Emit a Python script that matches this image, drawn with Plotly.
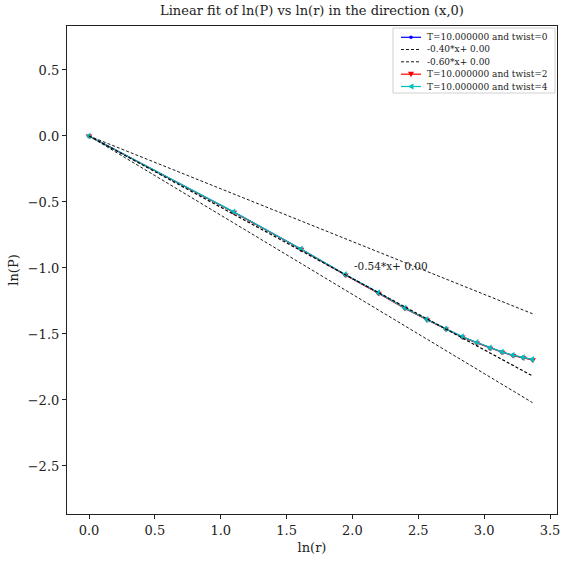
import numpy as np
import plotly.graph_objects as go

r_vals = [1, 3, 5, 7, 9, 11, 13, 15, 17, 19, 21, 23, 25, 27, 29]
lnP_twist0 = [0.0, -0.576, -0.857, -1.051, -1.189, -1.304, -1.391, -1.461, -1.521, -1.566, -1.606, -1.637, -1.662, -1.679, -1.694]
lnP_twist2 = [0.0, -0.578, -0.859, -1.053, -1.191, -1.306, -1.393, -1.463, -1.523, -1.568, -1.608, -1.639, -1.664, -1.681, -1.696]
lnP_twist4 = [0.0, -0.575, -0.856, -1.050, -1.188, -1.303, -1.390, -1.460, -1.520, -1.565, -1.605, -1.636, -1.661, -1.678, -1.693]
slopes_legend = [-0.40, -0.60]
fit_slope = -0.54
fit_intercept = 0.00
legend_labels = ["T=10.000000 and twist=0", "%.2f*x+ %.2f" % (slopes_legend[0], 0.0),
                 "%.2f*x+ %.2f" % (slopes_legend[1], 0.0),
                 "T=10.000000 and twist=2", "T=10.000000 and twist=4"]

lnr = np.log(np.array(r_vals, dtype=float))
xline = np.array([0.0, lnr[-1]])

FONT = "DejaVu Serif"
CYAN = "#00bfbf"
DASH = "3px,2px"
fig = go.Figure()

fig.add_trace(go.Scatter(x=lnr, y=lnP_twist0, mode="lines+markers",
                         line=dict(color="blue", width=1.2),
                         marker=dict(symbol="circle", size=4, color="blue")))
for s in slopes_legend:
    fig.add_trace(go.Scatter(x=xline, y=s * xline, mode="lines",
                             line=dict(color="black", width=0.9, dash=DASH)))
fig.add_trace(go.Scatter(x=lnr, y=lnP_twist2, mode="lines+markers",
                         line=dict(color="red", width=1.2),
                         marker=dict(symbol="triangle-down", size=6, color="red")))
fig.add_trace(go.Scatter(x=lnr, y=lnP_twist4, mode="lines+markers",
                         line=dict(color=CYAN, width=1.2),
                         marker=dict(symbol="triangle-left", size=6, color=CYAN)))
fig.add_trace(go.Scatter(x=xline, y=fit_slope * xline + fit_intercept, mode="lines",
                         line=dict(color="black", width=1.2, dash=DASH)))

fig.add_annotation(x=2.0, y=-1.0, text="%.2f*x+ %.2f" % (fit_slope, fit_intercept),
                   showarrow=False, xanchor="left", yanchor="middle", yshift=2,
                   font=dict(family=FONT, size=10.5, color="#222222"))

# ---- hand-made compact legend (pixel layout converted to paper coords) ----
W, H = 564, 565
ML, MR, MT, MB = 67, 7, 26, 51
PW, PH = W - ML - MR, H - MT - MB


def px(xp):
    return (xp - ML) / PW


def py(yp):
    return (H - MB - yp) / PH


shapes = []
shapes.append(dict(type="rect", xref="paper", yref="paper",
                   x0=px(393), x1=px(555), y0=py(93), y1=py(28),
                   line=dict(color="#d0d0d0", width=1), fillcolor="rgba(255,255,255,0.85)",
                   layer="above"))
row_y = [37.3, 49.5, 61.8, 74.2, 86.5]
styles = [("blue", "solid", "dot"), ("black", DASH, None), ("black", DASH, None),
          ("red", "solid", "down"), (CYAN, "solid", "left")]
x0l, x1l = 401, 421
for yy, (col, dsh, mk), lab in zip(row_y, styles, legend_labels):
    shapes.append(dict(type="line", xref="paper", yref="paper",
                       x0=px(x0l), x1=px(x1l), y0=py(yy), y1=py(yy),
                       line=dict(color=col, width=1.2 if dsh == "solid" else 0.9, dash=dsh),
                       layer="above"))
    cx = (x0l + x1l) / 2
    if mk == "dot":
        shapes.append(dict(type="circle", xref="paper", yref="paper",
                           x0=px(cx - 1.8), x1=px(cx + 1.8), y0=py(yy + 1.8), y1=py(yy - 1.8),
                           fillcolor=col, line=dict(color=col, width=0), layer="above"))
    elif mk == "down":
        pth = "M %f,%f L %f,%f L %f,%f Z" % (px(cx - 3), py(yy - 2.5), px(cx + 3), py(yy - 2.5), px(cx), py(yy + 3))
        shapes.append(dict(type="path", xref="paper", yref="paper", path=pth,
                           fillcolor=col, line=dict(color=col, width=0), layer="above"))
    elif mk == "left":
        pth = "M %f,%f L %f,%f L %f,%f Z" % (px(cx + 2.5), py(yy - 3), px(cx + 2.5), py(yy + 3), px(cx - 3), py(yy))
        shapes.append(dict(type="path", xref="paper", yref="paper", path=pth,
                           fillcolor=col, line=dict(color=col, width=0), layer="above"))
    fig.add_annotation(xref="paper", yref="paper", x=px(425), y=py(yy), text=lab,
                       showarrow=False, xanchor="left", yanchor="middle",
                       font=dict(family=FONT, size=9, color="#222222"))

axis_common = dict(showline=True, linecolor="#222222", linewidth=1.2, mirror=True,
                   ticks="outside", ticklen=4, tickcolor="#222222",
                   showgrid=False, zeroline=False, automargin=False,
                   tickfont=dict(family=FONT, size=13, color="#222222"))

fig.update_layout(
    width=W, height=H,
    margin=dict(l=ML, r=MR, t=MT, b=MB, autoexpand=False),
    plot_bgcolor="white", paper_bgcolor="white",
    showlegend=False,
    shapes=shapes,
    title=dict(text="Linear fit of ln(P) vs ln(r) in the direction (x,0)",
               x=(ML + PW / 2) / W, xanchor="center", y=0.99, yanchor="top",
               font=dict(family=FONT, size=13, color="#222222")),
    xaxis=dict(range=[-0.167, 3.553], tickvals=[0, 0.5, 1, 1.5, 2, 2.5, 3, 3.5],
               ticktext=["0.0", "0.5", "1.0", "1.5", "2.0", "2.5", "3.0", "3.5"],
               title=dict(text="ln(r)", font=dict(family=FONT, size=13, color="#222222"), standoff=6),
               **axis_common),
    yaxis=dict(range=[-2.864, 0.833], tickvals=[0.5, 0, -0.5, -1, -1.5, -2, -2.5],
               ticktext=["0.5", "0.0", "\u22120.5", "\u22121.0", "\u22121.5", "\u22122.0", "\u22122.5"],
               title=dict(text="ln(P)", font=dict(family=FONT, size=13, color="#222222"), standoff=6),
               **axis_common),
)

fig.write_html("out.html")
